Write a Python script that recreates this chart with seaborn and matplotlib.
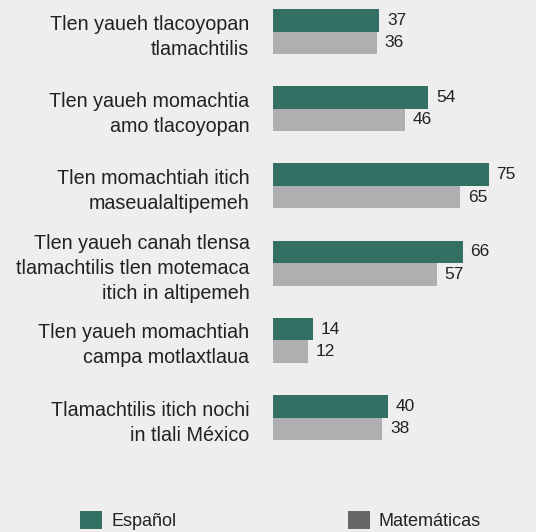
import matplotlib
matplotlib.use("Agg")
import matplotlib.pyplot as plt
from matplotlib.patches import Patch
import seaborn as sns
import pandas as pd

categories = [
    "Tlen yaueh tlacoyopan\ntlamachtilis",
    "Tlen yaueh momachtia\namo tlacoyopan",
    "Tlen momachtiah itich\nmaseualaltipemeh",
    "Tlen yaueh canah tlensa\ntlamachtilis tlen motemaca\nitich in altipemeh",
    "Tlen yaueh momachtiah\ncampa motlaxtlaua",
    "Tlamachtilis itich nochi\nin tlali México",
]
espanol = [37, 54, 75, 66, 14, 40]
matematicas = [36, 46, 65, 57, 12, 38]
series_names = ["Español", "Matemáticas"]

bar_colors = ["#346f63", "#afafb2"]
legend_colors = ["#346f63", "#666666"]
bg = "#eeeeee"
txt = "#222222"

sns.set_theme(style="white")
plt.rcParams["font.family"] = ["Liberation Sans", "DejaVu Sans"]

df = pd.DataFrame({
    "cat": categories * 2,
    "value": espanol + matematicas,
    "serie": [series_names[0]] * len(categories) + [series_names[1]] * len(categories),
})

fig = plt.figure(figsize=(5.36, 5.32), dpi=100)
fig.patch.set_facecolor(bg)
W, H = 536, 532
ax = fig.add_axes([273 / W, (H - 460) / H, (532 - 273) / W, 460 / H])
ax.set_facecolor(bg)

sns.barplot(data=df, y="cat", x="value", hue="serie", orient="h",
            palette=bar_colors, width=0.585, ax=ax, legend=False,
            saturation=1, edgecolor="none", linewidth=0)

for c in ax.containers:
    ax.bar_label(c, padding=5.5, fontsize=12.5, color=txt)

ax.set_xlim(0, 90)
ax.set_ylim(5.55, -0.408)
for s in ax.spines.values():
    s.set_visible(False)
ax.set_xticks([])
ax.set_xlabel("")
ax.set_ylabel("")
ax.tick_params(axis="y", length=0, pad=17, labelsize=14.2, labelcolor=txt)
for lab in ax.get_yticklabels():
    lab.set_horizontalalignment("right")
    lab.set_multialignment("right")
    lab.set_linespacing(1.4)

handles = [Patch(facecolor=legend_colors[i], edgecolor="none", label=series_names[i]) for i in range(2)]
leg = fig.legend(handles=handles, ncol=2, loc="lower left",
                 bbox_to_anchor=(80 / W, 2 / H), frameon=False,
                 borderpad=0, borderaxespad=0,
                 fontsize=13, handlelength=1.22, handleheight=1.22,
                 handletextpad=0.5, columnspacing=9.5, labelcolor=txt)

fig.savefig("out.png", dpi=100, facecolor=bg)
